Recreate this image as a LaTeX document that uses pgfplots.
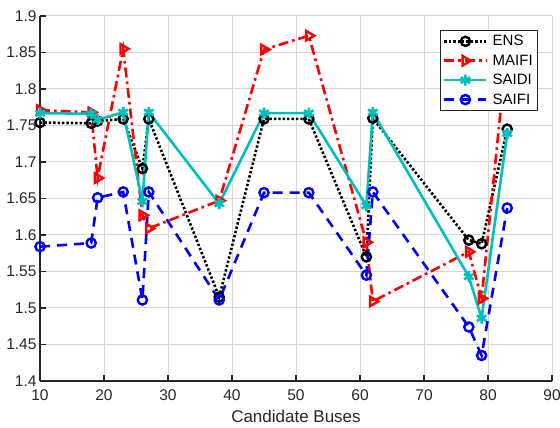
\documentclass[border=0pt]{standalone}
\usepackage{fontspec}
\setmainfont{Liberation Sans}
\usepackage{pgfplots}
\pgfplotsset{compat=1.18}
\definecolor{saidi}{rgb}{0,0.75,0.75}
\definecolor{axgray}{rgb}{0.15,0.15,0.15}
\begin{document}
\begin{tikzpicture}
\useasboundingbox (0,0) rectangle (560pt,428pt);
\begin{axis}[
  at={(40pt,47pt)}, anchor=south west,
  width=512pt, height=365pt, scale only axis,
  xmin=10, xmax=90, ymin=1.4, ymax=1.9,
  xtick={10,20,30,40,50,60,70,80,90},
  ytick={1.4,1.45,1.5,1.55,1.6,1.65,1.7,1.75,1.8,1.85,1.9},
  yticklabel style={/pgf/number format/fixed,/pgf/number format/precision=2},
  xticklabel style={yshift=-5pt},
  /pgf/number format/assume math mode=true,
  axis lines*=left,
  axis line style={axgray, line width=1.2pt},
  tick align=inside,
  major tick length=6pt,
  tick style={axgray, line width=1.2pt},
  ticklabel style={font=\fontsize{15.5}{18}\selectfont, text=axgray},
  grid=major,
  major grid style={black!16, line width=1pt},
  xlabel={Candidate Buses},
  xlabel style={font=\fontsize{17}{20}\selectfont, text=axgray, yshift=-3pt},
  legend style={at={(0.973,0.962)}, anchor=north east, draw=axgray,
    line width=1pt, font=\fontsize{15}{17}\selectfont, cells={anchor=west},
    inner xsep=3pt, inner ysep=3pt, row sep=3.5pt, column sep=3pt},
  legend image code/.code={\draw[mark repeat=2,mark phase=2,#1] plot coordinates {(0pt,0pt) (21pt,0pt) (42pt,0pt)};},
]
\addplot[black, line width=2.6pt, dash pattern=on 2.4pt off 2pt, mark=o, mark size=4.6pt,
  mark options={solid, line width=2.4pt}] coordinates {
 (10,1.754) (18,1.753) (19,1.756) (23,1.759) (26,1.691) (27,1.759) (38,1.515)
 (45,1.759) (52,1.759) (61,1.570) (62,1.760) (77,1.593) (79,1.588) (83,1.745)};
\addplot[red, line width=2.6pt, dash pattern=on 10pt off 4pt on 2.6pt off 4pt, mark=triangle, mark size=5.5pt,
  mark options={solid, line width=2.4pt, rotate=-90}] coordinates {
 (10,1.771) (18,1.768) (19,1.678) (23,1.855) (26,1.627) (27,1.609) (38,1.647)
 (45,1.854) (52,1.873) (61,1.590) (62,1.509) (77,1.577) (79,1.513) (83,1.860)};
\addplot[saidi, line width=2.6pt, mark=asterisk, mark size=5.5pt,
  mark options={solid, line width=2.6pt}] coordinates {
 (10,1.767) (18,1.766) (19,1.758) (23,1.768) (26,1.646) (27,1.768) (38,1.643)
 (45,1.767) (52,1.767) (61,1.640) (62,1.768) (77,1.543) (79,1.486) (83,1.739)};
\addplot[blue, line width=2.6pt, dash pattern=on 10pt off 7pt, mark=o, mark size=4.6pt,
  mark options={solid, line width=2.4pt}] coordinates {
 (10,1.584) (18,1.589) (19,1.651) (23,1.659) (26,1.511) (27,1.659) (38,1.511)
 (45,1.658) (52,1.658) (61,1.545) (62,1.659) (77,1.474) (79,1.435) (83,1.637)};
\legend{ENS,MAIFI,SAIDI,SAIFI}
\end{axis}
\end{tikzpicture}
\end{document}
